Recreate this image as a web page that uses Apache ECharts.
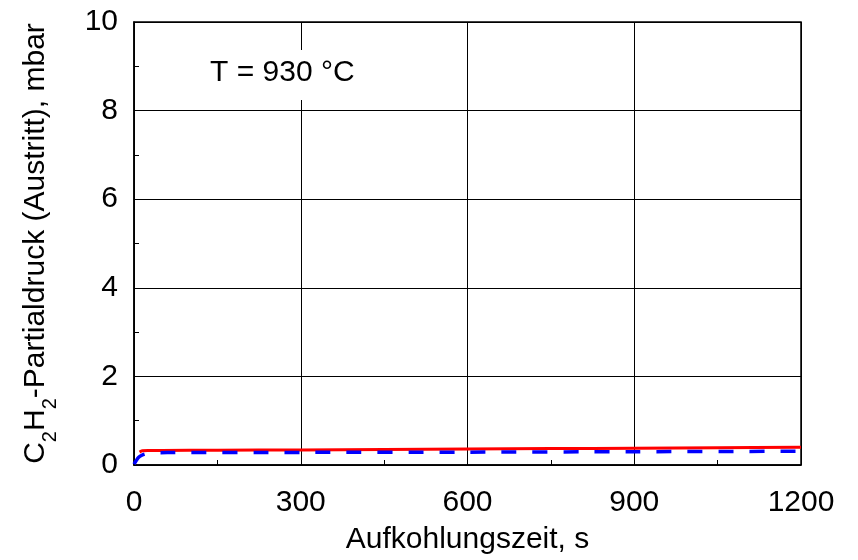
<!DOCTYPE html>
<html>
<head>
<meta charset="utf-8">
<script src="https://cdn.jsdelivr.net/npm/echarts@6/dist/echarts.min.js"></script>
<style>html,body{margin:0;padding:0;background:#fff}#c{width:858px;height:560px}</style>
</head>
<body>
<div id="c"></div>
<script>
// Data
const xTicks = [0, 300, 600, 900, 1200];
const yTicks = [0, 2, 4, 6, 8, 10];
const redTime = [10, 15, 25, 50, 150, 300, 450, 600, 750, 900, 1050, 1200];
const redValues = [0.29, 0.32, 0.33, 0.33, 0.335, 0.34, 0.35, 0.36, 0.37, 0.38, 0.39, 0.40];
const blueTime = [0, 4, 8, 14, 20, 30, 60, 300, 600, 900, 1200];
const blueValues = [0.02, 0.10, 0.17, 0.22, 0.25, 0.27, 0.28, 0.285, 0.29, 0.30, 0.31];
const annotation = 'T = 930 °C';
const xTitle = 'Aufkohlungszeit, s';

const FONT = '"Liberation Sans", Arial, sans-serif';
const FS = 30;
const chart = echarts.init(document.getElementById('c'), null, {renderer: 'canvas'});
const pairs = (xs, ys) => xs.map((x, i) => [x, ys[i]]);

chart.setOption({
  animation: false,
  backgroundColor: '#fff',
  grid: {left: 134, right: 57, top: 22, bottom: 93, show: true, borderColor: '#000', borderWidth: 1.5, backgroundColor: 'transparent'},
  xAxis: {
    type: 'value', min: xTicks[0], max: xTicks[xTicks.length - 1], interval: 300,
    name: xTitle, nameLocation: 'middle', nameGap: 60,
    nameTextStyle: {fontFamily: FONT, fontSize: FS, color: '#000'},
    axisLine: {show: true, lineStyle: {color: '#000', width: 1.5}},
    axisTick: {show: true, inside: true, length: 6, lineStyle: {color: '#000'}},
    minorTick: {show: true, splitNumber: 2, length: 5, lineStyle: {color: '#000'}},
    axisLabel: {fontFamily: FONT, fontSize: FS, color: '#000', margin: 23, formatter: v => String(v)},
    splitLine: {show: true, lineStyle: {color: '#000', width: 1}}
  },
  yAxis: {
    type: 'value', min: yTicks[0], max: yTicks[yTicks.length - 1], interval: 2,
    name: '{n|C}{s|2}{n|H}{s|2}{n|-Partialdruck (Austritt), mbar}',
    nameLocation: 'middle', nameGap: 74, nameRotate: 90,
    nameTextStyle: {
      fontFamily: FONT, fontSize: FS, color: '#000',
      rich: {
        n: {fontFamily: FONT, fontSize: FS, color: '#000', lineHeight: 34},
        s: {fontFamily: FONT, fontSize: 20, color: '#000', lineHeight: 48, verticalAlign: 'bottom'}
      }
    },
    axisLine: {show: true, lineStyle: {color: '#000', width: 1.5}},
    axisTick: {show: true, inside: true, length: 6, lineStyle: {color: '#000'}},
    minorTick: {show: true, splitNumber: 2, length: 5, lineStyle: {color: '#000'}},
    axisLabel: {fontFamily: FONT, fontSize: FS, color: '#000', margin: 16},
    splitLine: {show: true, lineStyle: {color: '#000', width: 1}}
  },
  graphic: [
    {type: 'rect', left: 200, top: 50, shape: {width: 168, height: 50}, style: {fill: '#fff'}, z: 5},
    {type: 'text', left: 210, top: 58, style: {text: annotation, fontFamily: FONT, fontSize: FS, fill: '#000'}, z: 6}
  ],
  series: [
    {type: 'line', data: pairs(redTime, redValues), showSymbol: false, smooth: 0.3,
     lineStyle: {color: '#ff0000', width: 3}, z: 3},
    {type: 'line', data: pairs(blueTime, blueValues), showSymbol: false, smooth: 0.3,
     lineStyle: {color: '#0000ff', width: 3.5, type: [15, 16]}, z: 4}
  ]
});
</script>
</body>
</html>
